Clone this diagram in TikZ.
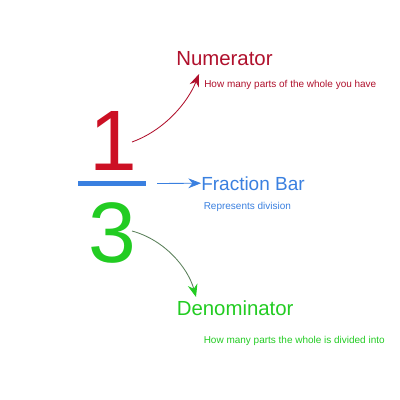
\documentclass[tikz,border=0pt]{standalone}
\usepackage{fontspec}
\setmainfont{Liberation Sans}
\usetikzlibrary{arrows.meta}
\definecolor{numred}{HTML}{CC1024}
\definecolor{numdark}{HTML}{B0102C}
\definecolor{barblue}{HTML}{3A80E0}
\definecolor{dengreen}{HTML}{22CC22}
\definecolor{arrgreen}{HTML}{5A805A}
\tikzset{
  digit/.style={anchor=base, inner sep=0pt, font=\fontsize{61}{61}\selectfont},
  title/.style={anchor=base west, inner sep=0pt, font=\fontsize{14.5}{16}\selectfont},
  note/.style={anchor=base west, inner sep=0pt, font=\fontsize{7.1}{8}\selectfont},
  link/.style={-{Stealth[length=9pt,width=7pt]}, line width=0.6pt},
}
\begin{document}
\begin{tikzpicture}[x=0.025cm,y=-0.025cm]
\useasboundingbox[fill=white] (0,0) rectangle (400,400);
% digits
\node[digit, text=numred] (one) at (113,171) {1};
\node[digit, text=dengreen] (three) at (112.5,262) {3};
% fraction bar
\coordinate (barL) at (78,183.5);
\coordinate (barR) at (146,183.5);
\draw[barblue, line width=3pt] (barL) -- (barR);
% labels
\node[title, text=numdark] (numt) at (176,66) {Numerator};
\node[note, text=numdark] (numn) at (204,88) {How many parts of the whole you have};
\node[title, text=barblue, font=\fontsize{13.5}{15}\selectfont] (bart) at (201,190) {Fraction Bar};
\node[note, text=barblue] (barn) at (203.5,209) {Represents division};
\node[title, text=dengreen] (dent) at (176.5,315) {Denominator};
\node[note, text=dengreen] (denn) at (203.5,343) {How many parts the whole is divided into};
% connectors
\coordinate (s1) at (132,142);
\coordinate (t1) at (199,74);
\draw[link, numdark] (s1) .. controls (165,130) and (188,102) .. (t1);
\coordinate (s2) at (157,183.5);
\draw[link, barblue] (s2) -- (bart.west);
\coordinate (s3) at (132,231);
\coordinate (t3) at (196,297);
\draw[arrgreen, line width=0.6pt, -{Stealth[length=9pt,width=7pt,color=dengreen]}] (s3) .. controls (165,240) and (188,268) .. (t3);
\end{tikzpicture}
\end{document}
